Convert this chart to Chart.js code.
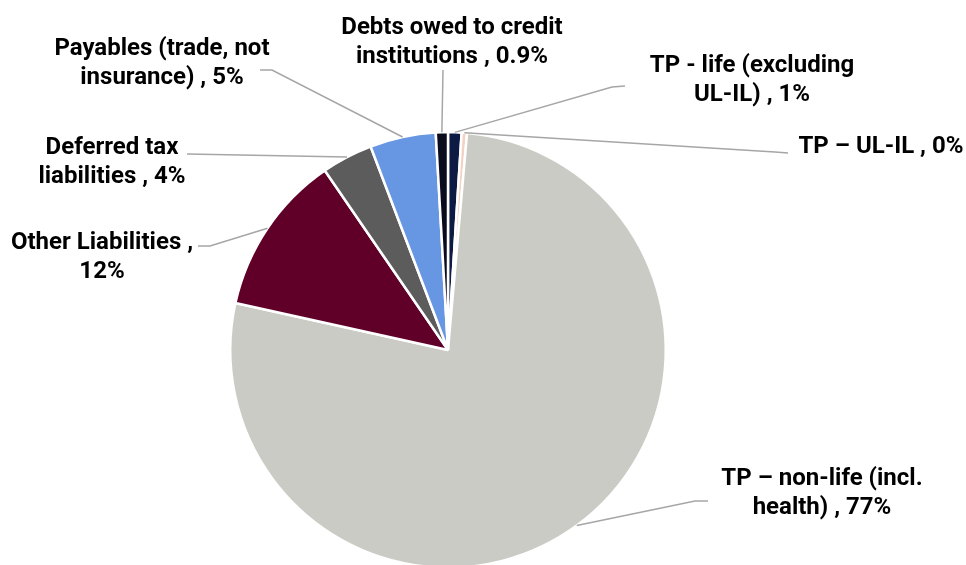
<!DOCTYPE html>
<html>
<head>
<meta charset="utf-8">
<script src="https://cdn.jsdelivr.net/npm/chart.js@4.4.1/dist/chart.umd.min.js"></script>
<style>
  html, body { margin: 0; padding: 0; background: #ffffff; overflow: hidden; width: 966px; height: 565px; }
  #wrap { position: relative; width: 966px; height: 700px; }
</style>
</head>
<body>
<div id="wrap"><canvas id="c" width="966" height="700"></canvas></div>
<script>
// Liability breakdown, clockwise from 12 o'clock
const categories = [
  'TP - life (excluding UL-IL)',
  'TP – UL-IL',
  'TP – non-life (incl. health)',
  'Other Liabilities',
  'Deferred tax liabilities',
  'Payables (trade, not insurance)',
  'Debts owed to credit institutions'
];
const shares = [1.0, 0.4, 77.3, 12.0, 3.8, 4.9, 0.9];
const shareDecimals = [0, 0, 0, 0, 0, 0, 1];

const sliceColors = ['#0c1a44', '#f3d2c4', '#cbcbc6', '#600029', '#5c5c5c', '#6797e2', '#0a0b1c'];

// Label placement: text centre x, first baseline y, words on first line, leader bend points
const labelLayout = [
  { cx: 752, y: 72, breakAfter: 4, path: [[612, 87], [625, 86]] },
  { cx: 881, y: 153, breakAfter: 99, path: [[775, 152], [788, 153]] },
  { cx: 822, y: 485, breakAfter: 4, path: [[695, 501], [708, 501]] },
  { cx: 102, y: 249, breakAfter: 3, path: [[210, 246], [198, 246]] },
  { cx: 112, y: 154, breakAfter: 2, path: [[187, 154]] },
  { cx: 162, y: 55, breakAfter: 3, path: [[272, 70], [260, 70]] },
  { cx: 452, y: 34, breakAfter: 4, path: [[443, 70]] }
];

const LINE_H = 29;
const FONT = 'bold 24px Roboto';

const labelPlugin = {
  id: 'sliceLabels',
  afterDatasetsDraw(chart) {
    const ctx = chart.ctx;
    const meta = chart.getDatasetMeta(0);
    const total = shares.reduce((a, b) => a + b, 0);
    ctx.save();
    meta.data.forEach((arc, i) => {
      const lay = labelLayout[i];
      const p = arc.getProps(['x', 'y', 'startAngle', 'endAngle', 'outerRadius'], true);
      const mid = (p.startAngle + p.endAngle) / 2;
      const ax = p.x + Math.cos(mid) * p.outerRadius;
      const ay = p.y + Math.sin(mid) * p.outerRadius;
      // leader line
      ctx.beginPath();
      ctx.strokeStyle = '#a6a6a6';
      ctx.lineWidth = 1.5;
      ctx.moveTo(ax, ay);
      lay.path.forEach(pt => ctx.lineTo(pt[0], pt[1]));
      ctx.stroke();
      // label text
      const pct = (shares[i] / total * 100).toFixed(shareDecimals[i]);
      const words = (categories[i] + ' , ' + pct + '%').split(' ');
      const lines = [words.slice(0, lay.breakAfter).join(' ')];
      if (words.length > lay.breakAfter) lines.push(words.slice(lay.breakAfter).join(' '));
      ctx.font = FONT;
      ctx.fillStyle = '#000000';
      ctx.textAlign = 'center';
      ctx.textBaseline = 'alphabetic';
      lines.forEach((ln, k) => ctx.fillText(ln, lay.cx, lay.y + k * LINE_H));
    });
    ctx.restore();
  }
};

new Chart(document.getElementById('c'), {
  type: 'pie',
  data: {
    labels: categories,
    datasets: [{
      data: shares,
      backgroundColor: sliceColors,
      borderColor: '#ffffff',
      borderWidth: 2.5
    }]
  },
  options: {
    responsive: false,
    animation: false,
    layout: { padding: { left: 229, right: 299, top: 130, bottom: 130 } },
    plugins: {
      legend: { display: false },
      tooltip: { enabled: false }
    }
  },
  plugins: [labelPlugin]
});
</script>
</body>
</html>
